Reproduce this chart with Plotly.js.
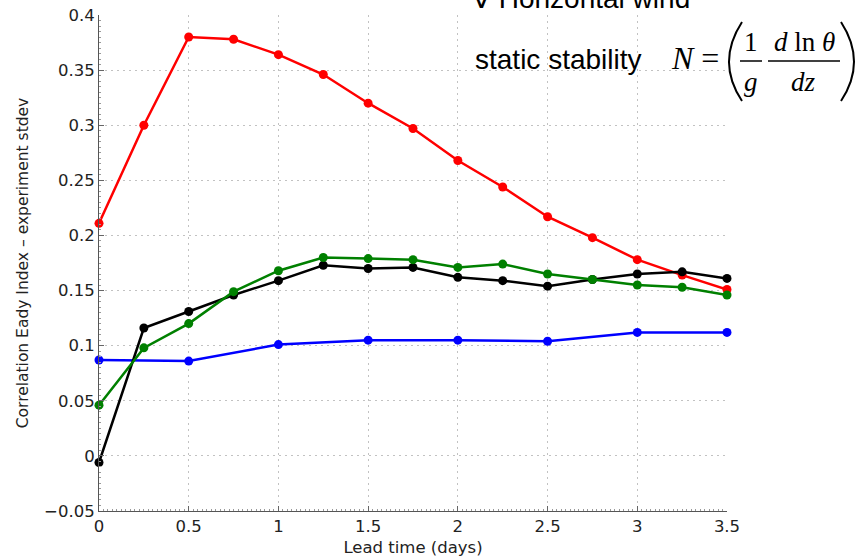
<!DOCTYPE html>
<html>
<head>
<meta charset="utf-8">
<script src="https://cdn.plot.ly/plotly-3.0.1.min.js"></script>
<style>html,body{margin:0;padding:0;background:#fff;}#chart{width:866px;height:559px;}</style>
</head>
<body>
<div id="chart"></div>
<script>
// Lead times (days)
const leadTime = [0, 0.25, 0.5, 0.75, 1, 1.25, 1.5, 1.75, 2, 2.25, 2.5, 2.75, 3, 3.25, 3.5];
const leadTimeBlue = [0, 0.5, 1, 1.5, 2, 2.5, 3, 3.5];

// Series values (correlation Eady index - experiment stdev)
const redValues   = [0.211, 0.300, 0.380, 0.378, 0.364, 0.346, 0.320, 0.297, 0.268, 0.244, 0.217, 0.198, 0.178, 0.164, 0.151];
const blackValues = [-0.006, 0.116, 0.131, 0.146, 0.159, 0.173, 0.170, 0.171, 0.162, 0.159, 0.154, 0.160, 0.165, 0.167, 0.161];
const greenValues = [0.046, 0.098, 0.120, 0.149, 0.168, 0.180, 0.179, 0.178, 0.171, 0.174, 0.165, 0.160, 0.155, 0.153, 0.146];
const blueValues  = [0.087, 0.086, 0.101, 0.105, 0.105, 0.104, 0.112, 0.112];

const xTicks = [0, 0.5, 1, 1.5, 2, 2.5, 3, 3.5];
const yTicks = [-0.05, 0, 0.05, 0.1, 0.15, 0.2, 0.25, 0.3, 0.35, 0.4];

function series(x, y, color) {
  return {
    x: x, y: y, type: 'scatter', mode: 'lines+markers',
    line: {color: color, width: 2.5},
    marker: {color: color, size: 9},
    showlegend: false, cliponaxis: false
  };
}

const data = [
  series(leadTimeBlue, blueValues, '#0000ff'),
  series(leadTime, redValues, '#ff0000'),
  series(leadTime, blackValues, '#000000'),
  series(leadTime, greenValues, '#008000')
];

// geometry helpers for the overlaid formula (paper coordinates)
const L = 99, T = 15, W = 628, H = 496;
const px = v => (v - L) / W;
const py = v => (T + H - v) / H;

const serif = 'Liberation Serif, Times New Roman, serif';
const sans = 'Liberation Sans, Arial, sans-serif';
const axisFont = 'DejaVu Sans, sans-serif';

function ann(text, x, y, size, family) {
  return {text: text, xref: 'paper', yref: 'paper', x: px(x), y: py(y),
          xanchor: 'center', yanchor: 'middle', showarrow: false,
          font: {size: size, family: family, color: '#000'}};
}

const layout = {
  width: 866, height: 559,
  margin: {l: L, r: 866 - L - W, t: T, b: 559 - T - H},
  paper_bgcolor: '#fff', plot_bgcolor: '#fff',
  font: {family: axisFont, color: '#222'},
  xaxis: {
    range: [0, 3.5], tickvals: xTicks, ticktext: xTicks.map(String),
    showline: true, linecolor: '#555', linewidth: 1,
    ticks: 'inside', ticklen: 5, tickcolor: '#666',
    minor: {ticks: 'inside', ticklen: 2, dtick: 0.025, tickcolor: '#999', showgrid: false},
    showgrid: true, gridcolor: '#c2c2c2', griddash: '2px,4px', gridwidth: 1,
    zeroline: false, tickfont: {size: 16.5, color: '#222', family: axisFont},
    title: {text: 'Lead time (days)', font: {size: 16.5, color: '#222', family: axisFont}, standoff: 6},
    automargin: false
  },
  yaxis: {
    range: [-0.05, 0.4], tickvals: yTicks, ticktext: yTicks.map(v => v < 0 ? '\u2212' + Math.abs(v) : String(v)),
    showline: true, linecolor: '#555', linewidth: 1,
    ticks: 'inside', ticklen: 5, tickcolor: '#666',
    minor: {ticks: 'inside', ticklen: 2, dtick: 0.005, tickcolor: '#999', showgrid: false},
    showgrid: true, gridcolor: '#c2c2c2', griddash: '2px,4px', gridwidth: 1,
    zeroline: false, tickfont: {size: 16.5, color: '#222', family: axisFont},
    title: {text: 'Correlation Eady Index \u2013 experiment stdev', font: {size: 15.5, color: '#222', family: axisFont}, standoff: 11},
    automargin: false
  },
  annotations: [
    ann('\u2207 Horizontal wind', 580, -2, 28, sans),
    ann('static stability', 558, 60, 28, sans),
    ann('<i>N</i> =', 695, 58, 32, serif),
    ann('1', 751, 42, 27, serif),
    ann('<i>g</i>', 751, 82, 27, serif),
    ann('<i>d</i> ln <i>\u03b8</i>', 804, 42, 27, serif),
    ann('<i>dz</i>', 803, 82, 27, serif)
  ],
  shapes: [
    {type: 'path', xref: 'paper', yref: 'paper',
     path: 'M ' + px(742) + ',' + py(22) + ' Q ' + px(716) + ',' + py(62) + ' ' + px(742) + ',' + py(101),
     line: {color: '#000', width: 2}},
    {type: 'path', xref: 'paper', yref: 'paper',
     path: 'M ' + px(841) + ',' + py(22) + ' Q ' + px(867) + ',' + py(62) + ' ' + px(841) + ',' + py(101),
     line: {color: '#000', width: 2}},
    {type: 'line', xref: 'paper', yref: 'paper', x0: px(740), x1: px(762), y0: py(61), y1: py(61),
     line: {color: '#000', width: 1.5}},
    {type: 'line', xref: 'paper', yref: 'paper', x0: px(768), x1: px(840), y0: py(61), y1: py(61),
     line: {color: '#000', width: 1.5}}
  ]
};

Plotly.newPlot('chart', data, layout, {staticPlot: true, displayModeBar: false});
</script>
</body>
</html>
